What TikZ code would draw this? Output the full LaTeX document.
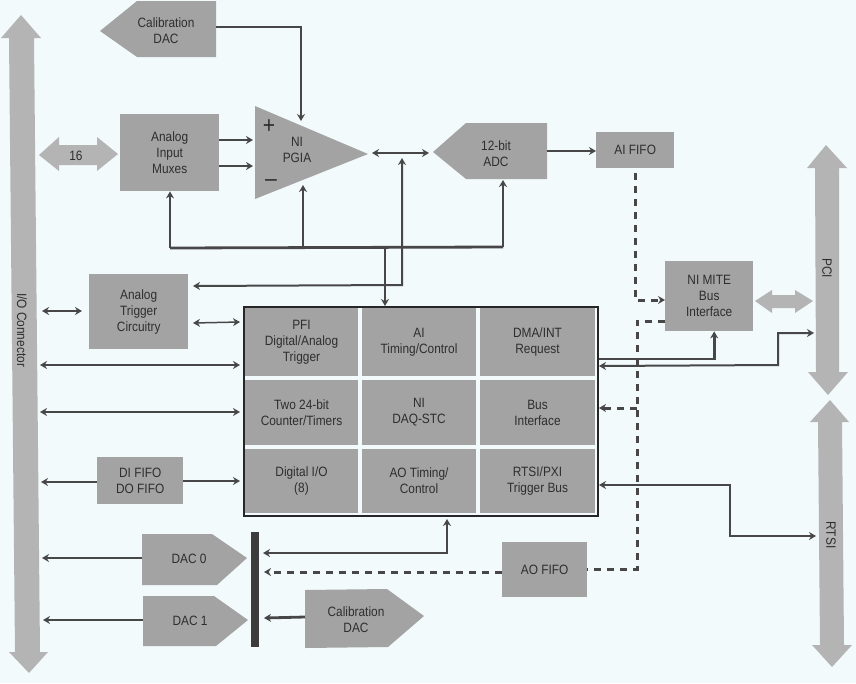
\documentclass[tikz,border=0pt]{standalone}
\usepackage{fontspec}
\setmainfont[FakeStretch=0.88]{Liberation Sans}
\usetikzlibrary{arrows.meta}
\definecolor{paper}{HTML}{F3FAFC}
\definecolor{blockgray}{HTML}{A3A3A3}
\definecolor{busgray}{HTML}{B4B4B4}
\definecolor{wire}{HTML}{474747}
\definecolor{ink}{HTML}{2E2E2E}
\tikzset{
  >={Stealth[length=7pt,width=8pt]},
  lbl/.style={text=ink,font=\fontsize{13.5}{16}\selectfont,align=center,inner sep=0pt},
  box/.style={lbl,fill=blockgray,anchor=north west,minimum width=#1},
  cell/.style={lbl,fill=blockgray,minimum width=#1},
  blockfill/.style={fill=blockgray},
  busfill/.style={fill=busgray},
  wirethin/.style={draw=wire,line width=1.5pt},
  wiremid/.style={draw=wire,line width=2pt},
  wirebold/.style={draw=wire,line width=2.8pt},
  wiredash/.style={draw=wire,line width=3pt,dash pattern=on 7pt off 6pt},
}
\begin{document}
\begin{tikzpicture}[x=1pt,y=-1pt]
\fill[paper] (0,0) rectangle (856,683);
\useasboundingbox (0,0) rectangle (856,683);

% System buses
\fill[busfill] (21,15) -- (41,38) -- (34,38) -- (40,652) -- (48,652) -- (29,673)
  -- (9,652) -- (15,652) -- (9,38) -- (1,38) -- cycle;
\node[lbl,rotate=-90] (ioconn) at (22,330) {I/O Connector};
\fill[busfill] (826,145) -- (847,168) -- (839,168) -- (839,372) -- (848,372) -- (828,395)
  -- (808,372) -- (816,372) -- (815,168) -- (807,168) -- cycle;
\node[lbl,rotate=-90] (pci) at (827,268) {PCI};
\fill[busfill] (830,400) -- (849,422) -- (842,422) -- (844,645) -- (852,645) -- (832,667)
  -- (812,645) -- (820,645) -- (818,422) -- (810,422) -- cycle;
\node[lbl,rotate=-90] (rtsi) at (831,535) {RTSI};

% Short block arrows
\fill[busfill] (39,155) -- (59,137) -- (59,145) -- (97,145) -- (97,137) -- (118,154)
  -- (97,171) -- (97,165) -- (59,165) -- (59,171) -- cycle;
\node[lbl] (sixteen) at (76,156) {16};
\fill[busfill] (755,301) -- (772,290) -- (772,295) -- (795,295) -- (795,290) -- (813,301)
  -- (795,313) -- (795,308) -- (772,308) -- (772,313) -- cycle;

% Converters and amplifier outlines
\fill[blockfill] (100,31) -- (137,1) -- (216,1) -- (216,57) -- (137,57) -- cycle;
\node[lbl] (caltop) at (166,31) {Calibration\\DAC};
\fill[blockfill] (255,106) -- (368,154) -- (255,199) -- cycle;
\node[lbl] (pgia) at (297,150) {NI\\PGIA};
\node[lbl,font=\fontsize{24}{24}\selectfont] (plus) at (269,127) {+};
\node[lbl,font=\fontsize{24}{24}\selectfont] (minus) at (271,183) {–};
\fill[blockfill] (433,152) -- (466,123) -- (547,123) -- (547,179) -- (466,179) -- cycle;
\node[lbl] (adc) at (496,154) {12-bit\\ADC};
\fill[blockfill] (142,534) -- (212,534) -- (247,558) -- (217,585) -- (142,585) -- cycle;
\node[lbl] (dac0) at (189,559) {DAC 0};
\fill[blockfill] (143,596) -- (214,596) -- (248,620) -- (216,646) -- (143,646) -- cycle;
\node[lbl] (dac1) at (190,621) {DAC 1};
\fill[blockfill] (305,590) -- (387,589) -- (424,616) -- (388,647) -- (305,648) -- cycle;
\node[lbl] (calbot) at (356,620) {Calibration\\DAC};

% Rectangular blocks
\node[box=99pt,minimum height=77pt] (mux) at (120,114) {Analog\\Input\\Muxes};
\node[box=78pt,minimum height=36pt] (aififo) at (596,132) {AI FIFO};
\node[box=88pt,minimum height=70pt] (mite) at (665,261) {NI MITE\\Bus\\Interface};
\node[box=99pt,minimum height=75pt] (trig) at (89,274) {Analog\\Trigger\\Circuitry};
\node[box=86pt,minimum height=47pt] (difo) at (97,457) {DI FIFO\\DO FIFO};
\node[box=85pt,minimum height=55pt] (aofifo) at (502,542) {AO FIFO};
\node[anchor=north west,fill=wire!85!black,minimum width=8pt,minimum height=115pt,inner sep=0pt] (bar) at (251,532) {};

% DAQ-STC block and its nine cells
\node[draw=black!85,line width=2.4pt,fill=paper,anchor=north west,minimum width=354pt,minimum height=209pt,inner sep=0pt] (stc) at (243,306) {};
\node[cell=113pt,minimum height=68pt] (pfi) at (301.5,342) {PFI\\Digital/Analog\\Trigger};
\node[cell=114pt,minimum height=68pt] (ait) at (419,342) {AI\\Timing/Control};
\node[cell=115pt,minimum height=68pt] (dma) at (537.5,342) {DMA/INT\\Request};
\node[cell=113pt,minimum height=65pt] (ctr) at (301.5,412.5) {Two 24-bit\\Counter/Timers};
\node[cell=114pt,minimum height=65pt] (daq) at (419,412.5) {NI\\DAQ-STC};
\node[cell=115pt,minimum height=65pt] (busif) at (537.5,412.5) {Bus\\Interface};
\node[cell=113pt,minimum height=64pt] (dio) at (301.5,481) {Digital I/O\\(8)};
\node[cell=114pt,minimum height=64pt] (aot) at (419,481) {AO Timing/\\Control};
\node[cell=115pt,minimum height=64pt] (rtsipxi) at (537.5,481) {RTSI/PXI\\Trigger Bus};

% Anchor points on the drawn outlines and at the wire junctions
\coordinate (calOut) at (216,27);
\coordinate (pgiaPlus) at (301,121);
\coordinate (pgiaMinus) at (303,185);
\coordinate (pgiaIn1) at (253,140);
\coordinate (pgiaIn2) at (253,166);
\coordinate (pgiaOut) at (372,153);
\coordinate (adcIn) at (429,153);
\coordinate (adcTrig) at (503,180);
\coordinate (adcOut) at (547,151);
\coordinate (busL) at (170,248);
\coordinate (busR) at (503,247);
\coordinate (busJ) at (385,248);
\coordinate (busP) at (303,248);
\coordinate (pgiaNode) at (402,158);
\coordinate (trigSense) at (193,286);
\coordinate (senseC) at (402,285);
\coordinate (dashC1) at (637,300);
\coordinate (dashC2) at (637,321);
\coordinate (dashJ) at (637,408);
\coordinate (dashC3) at (637,569);
\coordinate (dacIn0) at (263,553);
\coordinate (dacIn1) at (264,572);
\coordinate (dacIn2) at (264,618);
\coordinate (calBotIn) at (305,617);
\coordinate (pciIn) at (814,333);
\coordinate (rtsiIn) at (816,536);
% Wires stop a little short of the DAQ-STC frame
\coordinate (stcL) at (240,0);
\coordinate (stcR) at (599,0);

% Analog signal path
\draw[wiremid,->] (calOut) -| (pgiaPlus);
\draw[wiremid,->] (mux.east |- pgiaIn1) -- (pgiaIn1);
\draw[wiremid,->] (mux.east |- pgiaIn2) -- (pgiaIn2);
\draw[wiremid,<->] (pgiaOut) -- (adcIn);
\draw[wirethin,->] (adcOut) -- (aififo.west |- adcOut);

% Timing bus from the DAQ-STC
\draw[wirebold] (busL) -- (busR);
\draw[wirebold,->] (busL) -- (mux.south -| busL);
\draw[wirebold,->] (busP) -- (pgiaMinus);
\draw[wirebold,->] (busR) -- (adcTrig);
\draw[wirebold,->] (busJ) -- (stc.north -| busJ);
\draw[wiremid,<->] (pgiaNode) -- (senseC) -- (trigSense);

% I/O connector links
\draw[wiremid,<->] (42,311) -- (82,311);
\draw[wirethin,<->] (193,323) -- (stcL |- 0,322);
\draw[wirebold,<->] (40,365) -- (stcL |- 0,365);
\draw[wirebold,<->] (40,412) -- (stcL |- 0,412);
\draw[wirebold,->] (difo.west |- 0,482) -- (41,482);
\draw[wirebold,->] (difo.east |- 0,481) -- (stcL |- 0,481);
\draw[wirebold,->] (142,558) -- (42,558);
\draw[wirebold,->] (143,620) -- (43,620);

% DAC data bus
\draw[wirebold,<->] (dacIn0) -| (447,519);
\draw[wiredash,->] (aofifo.west |- dacIn1) -- (dacIn1);
\draw[wirebold,->] (calBotIn) -- (dacIn2);

% FIFO data paths
\draw[wiredash,->] (aififo.south |- 0,173) -- (aififo.south |- dashC1) -- (dashC1) -- (mite.west |- dashC1);
\draw[wiredash] (mite.west |- dashC2) -- (dashC2) -- (dashC3) -- (aofifo.east |- dashC3);
\draw[wiredash,->] (dashJ) -- (stcR |- dashJ);

% Host and RTSI connections
\draw[wirebold,->] (stc.east |- 0,359) -| ([xshift=5pt]mite.south);
\draw[wiremid,<->] (stcR |- 0,366) -- (778,365) |- (pciIn);
\draw[wiremid,<->] (stcR |- 0,485) -- (730,485) |- (rtsiIn);
\end{tikzpicture}
\end{document}
